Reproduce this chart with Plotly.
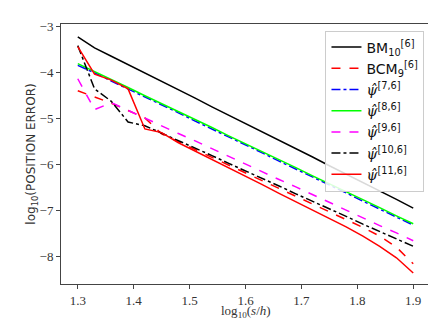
import plotly.graph_objects as go

# log10(s/h) sample points
log_sh = [1.30, 1.33, 1.36, 1.39, 1.42, 1.45, 1.48, 1.51, 1.54, 1.57, 1.60,
          1.63, 1.66, 1.69, 1.72, 1.75, 1.78, 1.81, 1.84, 1.87, 1.90]

# log10(position error) per method
bm_10_6 = [-3.22, -3.46, -3.64, -3.82, -4.00, -4.19, -4.37, -4.55, -4.74, -4.92, -5.10,
           -5.29, -5.47, -5.65, -5.83, -6.02, -6.20, -6.38, -6.57, -6.75, -6.94]
bcm_9_6 = [-4.39, -4.52, -4.66, -4.82, -4.98, -5.33, -5.50, -5.67, -5.84, -6.01, -6.17,
           -6.34, -6.51, -6.68, -6.85, -7.02, -7.19, -7.36, -7.55, -7.79, -8.15]
psi_7_6 = [-3.84, -4.00, -4.18, -4.35, -4.53, -4.70, -4.87, -5.05, -5.22, -5.40, -5.57,
           -5.74, -5.92, -6.09, -6.27, -6.44, -6.61, -6.79, -6.96, -7.14, -7.31]
psi_8_6 = [-3.80, -3.97, -4.15, -4.32, -4.50, -4.67, -4.84, -5.02, -5.19, -5.37, -5.54,
           -5.71, -5.89, -6.06, -6.24, -6.41, -6.58, -6.76, -6.93, -7.11, -7.28]
psi_9_6 = [-4.13, -4.80, -4.65, -4.82, -4.98, -5.15, -5.32, -5.48, -5.65, -5.82, -5.98,
           -6.15, -6.32, -6.48, -6.65, -6.82, -6.98, -7.15, -7.32, -7.48, -7.65]
psi_10_6 = [-3.41, -4.35, -4.62, -5.07, -5.15, -5.31, -5.47, -5.64, -5.80, -5.97, -6.13,
            -6.30, -6.46, -6.63, -6.79, -6.96, -7.12, -7.29, -7.45, -7.61, -7.77]
psi_11_6 = [-3.43, -4.03, -4.16, -4.35, -5.22, -5.30, -5.52, -5.70, -5.88, -6.07, -6.25,
            -6.43, -6.62, -6.80, -6.98, -7.17, -7.35, -7.55, -7.77, -8.02, -8.35]

x_ticks = [1.3, 1.4, 1.5, 1.6, 1.7, 1.8, 1.9]
y_ticks = [-3, -4, -5, -6, -7, -8]

SERIF = "Liberation Serif, DejaVu Serif, serif"
SANS = "DejaVu Sans, Arial, sans-serif"

psi = "<span style='font-family:DejaVu Serif'><i>ψ̂</i></span>"
series = [
    ("BM<sub>10</sub><sup>[6]</sup>", bm_10_6, "#000000", "solid"),
    ("BCM<sub>9</sub><sup>[6]</sup>", bcm_9_6, "#ff0000", "dash"),
    (psi + "<sup>[7,6]</sup>", psi_7_6, "#0000ff", "dashdot"),
    (psi + "<sup>[8,6]</sup>", psi_8_6, "#00ff00", "solid"),
    (psi + "<sup>[9,6]</sup>", psi_9_6, "#ff00ff", "dash"),
    (psi + "<sup>[10,6]</sup>", psi_10_6, "#000000", "dashdot"),
    (psi + "<sup>[11,6]</sup>", psi_11_6, "#ff0000", "solid"),
]

fig = go.Figure()
for name, ys, color, dash in series:
    fig.add_trace(go.Scatter(
        x=log_sh, y=ys, mode="lines", name=name,
        line=dict(color=color, dash=dash, width=1.5),
    ))

axis_common = dict(
    showgrid=False, zeroline=False,
    showline=True, linecolor="#444444", linewidth=1, mirror=True,
    ticks="outside", ticklen=4, tickcolor="#444444",
    tickfont=dict(family=SERIF, size=13, color="#333333"),
)

fig.update_xaxes(
    range=[1.27, 1.93], tickvals=x_ticks, ticktext=[f"{v:.1f}" for v in x_ticks],
    **axis_common,
)
fig.update_yaxes(
    range=[-8.59, -2.94], tickvals=y_ticks, ticktext=[f"−{abs(v)}" for v in y_ticks],
    title=dict(text="log<sub>10</sub>(POSITION ERROR)",
               font=dict(family=SANS, size=12, color="#333333"), standoff=0),
    **axis_common,
)

# x-axis title placed as an annotation so it sits close under the tick labels
fig.add_annotation(
    text="log<sub>10</sub>(<i>s</i>/<i>h</i>)", xref="paper", yref="paper",
    x=0.5, y=-0.105, yanchor="middle", showarrow=False,
    font=dict(family=SERIF, size=13, color="#333333"),
)

fig.update_layout(
    width=436, height=327,
    margin=dict(l=53, r=14, t=16, b=51),
    plot_bgcolor="white", paper_bgcolor="white",
    font=dict(family=SANS, size=13, color="#111111"),
    legend=dict(
        x=0.985, xanchor="right", y=0.975, yanchor="top",
        bgcolor="rgba(255,255,255,0.85)", bordercolor="#cccccc", borderwidth=1,
        font=dict(family=SANS, size=14, color="#111111"),
        itemwidth=30,
    ),
)

fig.write_html("out.html")
